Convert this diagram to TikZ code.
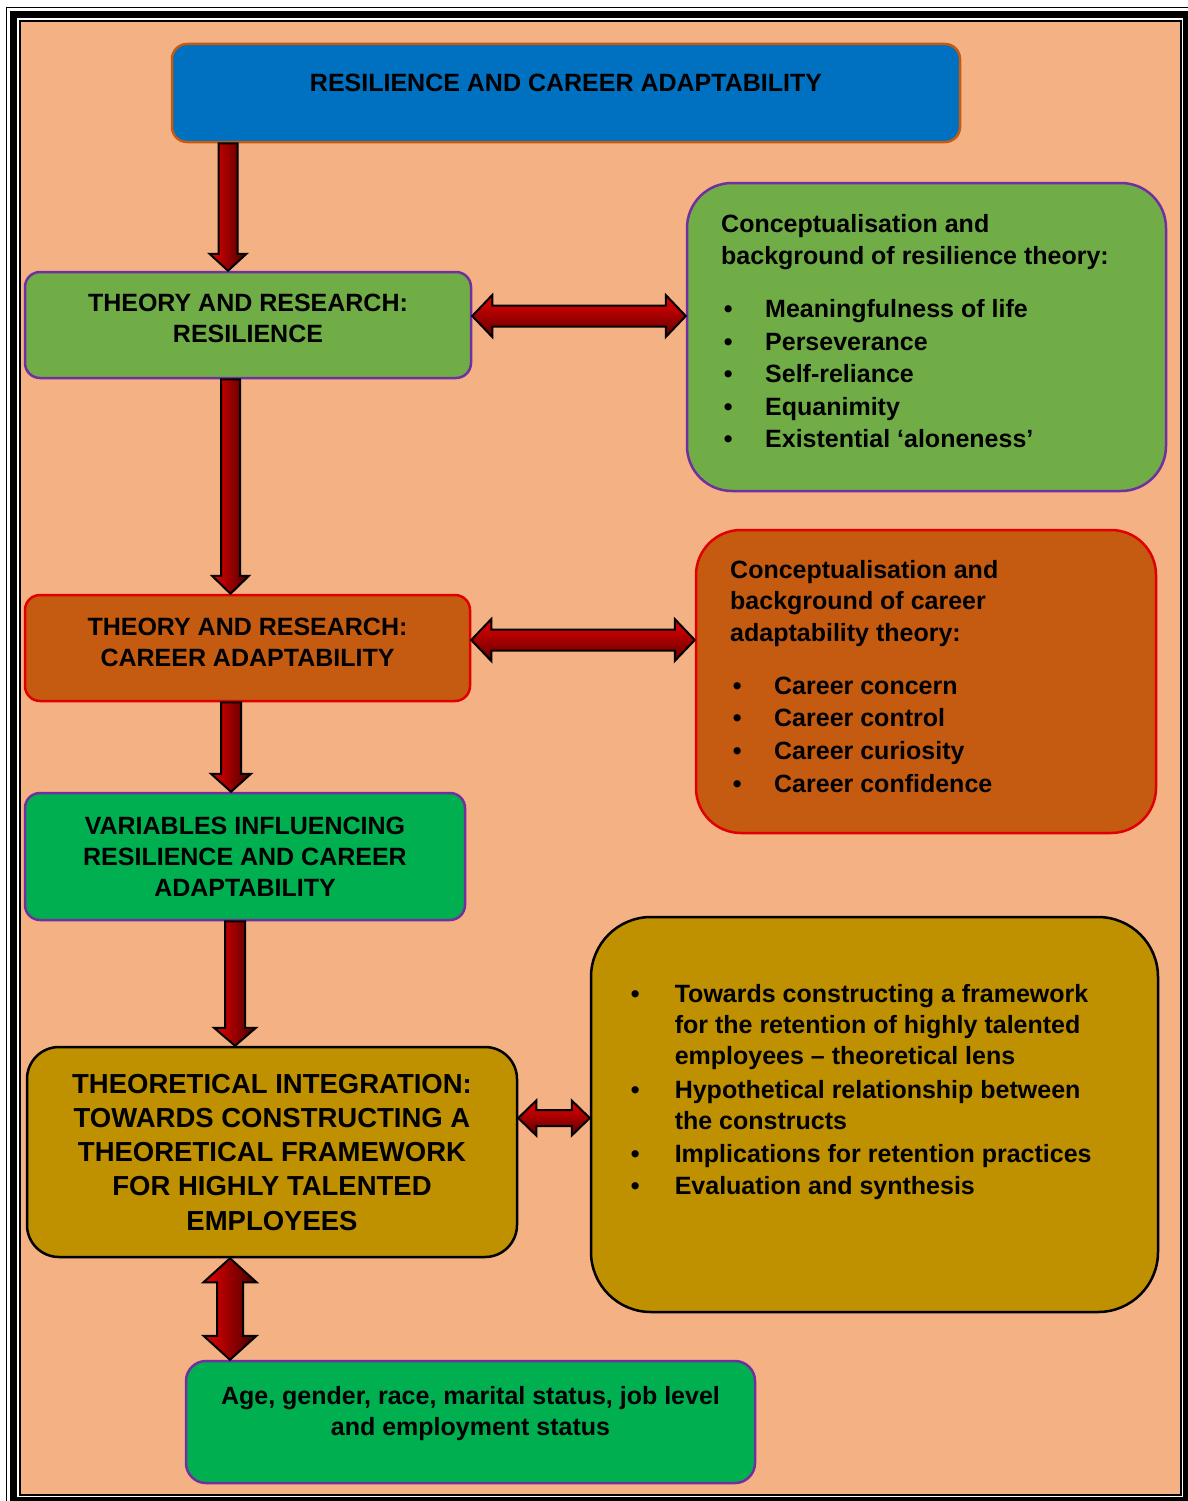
\documentclass[tikz,border=0pt]{standalone}
\usepackage{fontspec}
\setmainfont{Liberation Sans}
\usetikzlibrary{calc}

\definecolor{peach}{HTML}{F4B183}
\definecolor{titleblue}{HTML}{0070C0}
\definecolor{titleedge}{HTML}{C55A11}
\definecolor{leafgreen}{HTML}{70AD47}
\definecolor{brightgreen}{HTML}{00B050}
\definecolor{rust}{HTML}{C55A11}
\definecolor{gold}{HTML}{BF9000}
\definecolor{violetedge}{HTML}{7030A0}
\definecolor{rededge}{HTML}{E00000}
\definecolor{arrowlight}{HTML}{E80000}
\definecolor{arrowmid}{HTML}{C80000}
\definecolor{arrowdark}{HTML}{450000}

\newcommand\bl[1]{\makebox[44pt][l]{\hspace{2.6pt}\textbullet}#1}
\newcommand\blz[1]{\makebox[44pt][l]{\textbullet}#1}

% downward block arrow at column #1 from #2 to #3 (shaft half width #4, head half width #5, head length #6)
\newcommand\downblock[6]{%
  \path[blockv] let \p1=(#2), \p2=(#3) in
    (#1pt-#4pt,\y1) -- (#1pt+#4pt,\y1) -- (#1pt+#4pt,\y2+#6pt) -- (#1pt+#5pt,\y2+#6pt)
    -- (#1pt,\y2) -- (#1pt-#5pt,\y2+#6pt) -- (#1pt-#4pt,\y2+#6pt) -- cycle;}
% vertical double block arrow
\newcommand\vdoubleblock[6]{%
  \path[blockv] let \p1=(#2), \p2=(#3) in
    (#1pt,\y1) -- (#1pt+#5pt,\y1-#6pt) -- (#1pt+#4pt,\y1-#6pt) -- (#1pt+#4pt,\y2+#6pt)
    -- (#1pt+#5pt,\y2+#6pt) -- (#1pt,\y2) -- (#1pt-#5pt,\y2+#6pt) -- (#1pt-#4pt,\y2+#6pt)
    -- (#1pt-#4pt,\y1-#6pt) -- (#1pt-#5pt,\y1-#6pt) -- cycle;}
% horizontal double block arrow at row #1 from #2 to #3
\newcommand\hdoubleblock[6]{%
  \path[blockh] let \p1=(#2), \p2=(#3) in
    (\x1,-#1pt) -- (\x1+#6pt,-#1pt+#5pt) -- (\x1+#6pt,-#1pt+#4pt) -- (\x2-#6pt,-#1pt+#4pt)
    -- (\x2-#6pt,-#1pt+#5pt) -- (\x2,-#1pt) -- (\x2-#6pt,-#1pt-#5pt) -- (\x2-#6pt,-#1pt-#4pt)
    -- (\x1+#6pt,-#1pt-#4pt) -- (\x1+#6pt,-#1pt-#5pt) -- cycle;}

\begin{document}
\begin{tikzpicture}[x=1pt,y=-1pt,
  box/.style={draw, line width=2.5pt, inner sep=0pt},
  txt/.style={inner sep=0pt, font=\fontsize{25}{31}\selectfont\bfseries},
  blockv/.style={draw=black, line width=2pt, line join=miter,
    left color=arrowlight, middle color=arrowmid, right color=arrowdark},
  blockh/.style={draw=black, line width=2pt, line join=miter,
    top color=arrowlight, middle color=arrowmid, bottom color=arrowdark!80!arrowmid}]

\useasboundingbox (0,0) rectangle (1187,1501);
\fill[white] (0,0) rectangle (1187,1501);

% page frame: thin, thick, thin
\draw[line width=1.5pt] (6.5,7.5) rectangle (1200,1515);
\draw[line width=7pt] (13.5,14.5) rectangle (1186.5,1500.5);
\draw[line width=2pt, fill=peach] (20,21) rectangle (1181,1495);

% boxes
\node[box, fill=titleblue, draw=titleedge, rounded corners=15pt,
  minimum width=788pt, minimum height=98pt] (title) at (566,93) {};
\node[box, fill=leafgreen, draw=violetedge, rounded corners=15pt,
  minimum width=446pt, minimum height=106pt] (res) at (248,325) {};
\node[box, fill=leafgreen, draw=violetedge, rounded corners=45pt,
  minimum width=479pt, minimum height=308pt] (resR) at (926.5,337) {};
\node[box, fill=rust, draw=rededge, rounded corners=15pt,
  minimum width=445pt, minimum height=106pt] (car) at (247.5,648) {};
\node[box, fill=rust, draw=rededge, rounded corners=45pt,
  minimum width=460pt, minimum height=303pt] (carR) at (926,681.5) {};
\node[box, fill=brightgreen, draw=violetedge, rounded corners=15pt,
  minimum width=440pt, minimum height=127pt] (var) at (245,856.5) {};
\node[box, fill=gold, draw=black, rounded corners=32pt,
  minimum width=490pt, minimum height=210pt] (integ) at (272,1152) {};
\node[box, fill=gold, draw=black, rounded corners=60pt,
  minimum width=567pt, minimum height=395pt] (integR) at (874.5,1114.5) {};
\node[box, fill=brightgreen, draw=violetedge, rounded corners=20pt,
  minimum width=569pt, minimum height=122pt] (demo) at (470.5,1422) {};

% texts
\node[txt, anchor=base] (titletxt) at (566,92) {RESILIENCE AND CAREER ADAPTABILITY};
\node[txt, anchor=base] (restxt) at (248,311)
  {\parbox[t]{430pt}{\centering THEORY AND RESEARCH:\\RESILIENCE}};
\node[txt, anchor=base west] (resRtxt) at (721,232)
  {\parbox[t]{440pt}{\fontsize{25}{32.5}\selectfont\raggedright
   Conceptualisation and\\background of resilience theory:\\[20.5pt]
   \bl{Meaningfulness of life}\\
   \bl{Perseverance}\\
   \bl{Self-reliance}\\
   \bl{Equanimity}\\
   \bl{Existential ‘aloneness’}}};
\node[txt, anchor=base] (cartxt) at (247.5,635)
  {\parbox[t]{430pt}{\centering THEORY AND RESEARCH:\\CAREER ADAPTABILITY}};
\node[txt, anchor=base west] (carRtxt) at (730,578)
  {\parbox[t]{420pt}{\fontsize{25}{31.5}\selectfont\raggedright
   Conceptualisation and\\background of career\\adaptability theory:\\[21.5pt]
   \bl{Career concern}\\[1.2pt]
   \bl{Career control}\\[1.2pt]
   \bl{Career curiosity}\\[1.2pt]
   \bl{Career confidence}}};
\node[txt, anchor=base] (vartxt) at (245,834)
  {\parbox[t]{430pt}{\centering VARIABLES INFLUENCING\\RESILIENCE AND CAREER\\ADAPTABILITY}};
\node[txt, anchor=base] (integtxt) at (272,1093)
  {\parbox[t]{480pt}{\fontsize{27.5}{34.25}\selectfont\centering
   THEORETICAL INTEGRATION:\\TOWARDS CONSTRUCTING A\\THEORETICAL FRAMEWORK\\FOR HIGHLY TALENTED\\EMPLOYEES}};
\node[txt, anchor=base west] (integRtxt) at (630.6,1002)
  {\parbox[t]{520pt}{\raggedright
   \blz{Towards constructing a framework}\\
   \hspace*{44pt}for the retention of highly talented\\
   \hspace*{44pt}employees – theoretical lens\\[3pt]
   \blz{Hypothetical relationship between}\\
   \hspace*{44pt}the constructs\\[2pt]
   \blz{Implications for retention practices}\\[1pt]
   \blz{Evaluation and synthesis}}};
\node[txt, anchor=base] (demotxt) at (470.5,1404)
  {\parbox[t]{560pt}{\centering Age, gender, race, marital status, job level\\and employment status}};

% connectors
\downblock{228}{title.south}{res.north}{9.5}{18.5}{17}
\downblock{230.5}{res.south}{car.north}{9.5}{18.5}{18}
\downblock{231}{car.south}{var.north}{10}{20}{18}
\downblock{235}{var.south}{integ.north}{10}{21}{18}
\hdoubleblock{316}{res.east}{resR.west}{10.5}{21}{20}
\hdoubleblock{640}{car.east}{carR.west}{10.5}{21}{20}
\hdoubleblock{1118}{integ.east}{integR.west}{8}{17.5}{18}
\vdoubleblock{230}{integ.south}{demo.north}{13}{26.5}{24}

\end{tikzpicture}
\end{document}
